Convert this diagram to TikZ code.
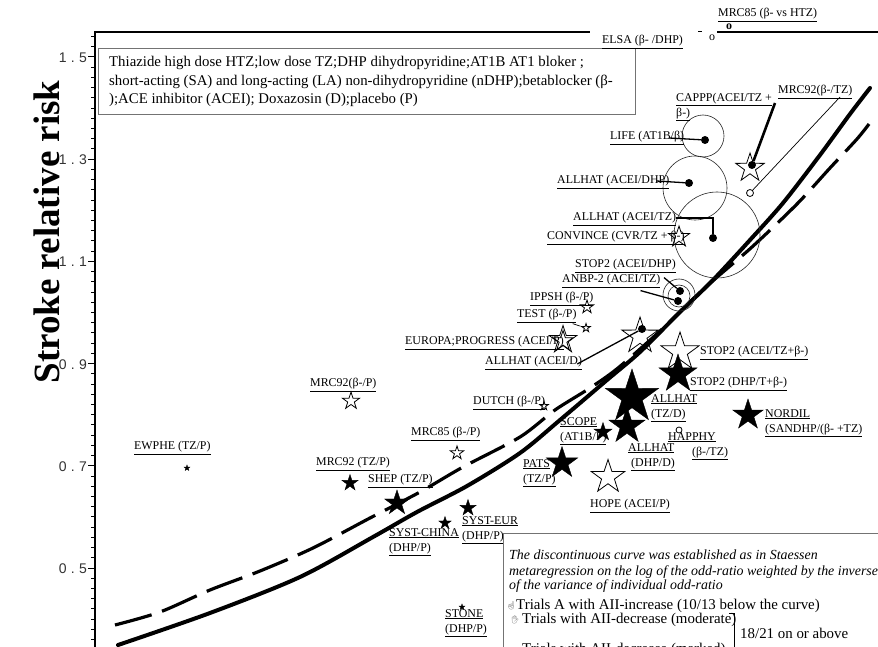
\documentclass[tikz,border=0pt]{standalone}
\usepackage{fontspec}
\setmainfont{Liberation Serif}
\newfontfamily\tickfont[LetterSpace=30]{Liberation Sans}
\newfontfamily\emofont{Noto Emoji}
\usetikzlibrary{shapes.geometric}
\newcommand{\lu}[1]{\underline{#1}}
\tikzset{
 fstar/.style={star, star points=5, star point ratio=2.6, fill=black, draw=black, line width=0.4pt, inner sep=0pt, minimum size=#1},
 ostar/.style={star, star points=5, star point ratio=2.6, draw=black, line width=0.8pt, inner sep=0pt, minimum size=#1},
 bdot/.style={circle, fill=black, inner sep=0pt, minimum size=8pt},
 odot/.style={circle, draw=black, line width=0.8pt, inner sep=0pt, minimum size=#1},
 ring/.style={circle, draw=black!85, line width=0.6pt, inner sep=0pt, minimum size=#1},
 lab/.style={anchor=west, inner sep=0pt, align=left, font=\fontsize{11.9}{15}\selectfont},
 lead/.style={line width=1.3pt},
 thinlead/.style={line width=0.7pt},
 axisline/.style={line width=1.3pt},
 tlab/.style={anchor=east, inner sep=0pt, font=\tickfont\fontsize{14}{16}\selectfont, text=black!80},
 legtxt/.style={anchor=base west, inner sep=0pt, font=\fontsize{14.8}{16}\selectfont},
 notetxt/.style={anchor=base west, inner sep=0pt, font=\fontsize{13.9}{15}\selectfont\itshape},
 trialtxt/.style={anchor=base west, inner sep=0pt, font=\fontsize{14.9}{16}\selectfont},
 icon/.style={anchor=base west, inner sep=0pt, font=\emofont\fontsize{8}{9}\selectfont, text=black!60},
 omark/.style={inner sep=0pt, font=\fontsize{12}{13}\selectfont},
 solidc/.style={line width=4pt, line cap=round, line join=round},
 dashc/.style={line width=3.2pt, dash pattern=on 38pt off 11pt},
}
\begin{document}
\begin{tikzpicture}[x=1pt,y=-1pt]
\useasboundingbox (0,0) rectangle (878,647);
\fill[white] (0,0) rectangle (878,647);

% axes
\draw[axisline] (95,647) -- (95,32) -- (590,32);
\draw[axisline] (717,32) -- (878,32);
\draw[line width=1pt] (698,32) -- (702,32);
\foreach \i in {18,...,77}{
  \pgfmathsetmacro\yy{57+(1.5-\i*0.02)*511}
  \draw[line width=0.8pt] (95,\yy) -- (91,\yy);
}
\foreach \v in {0.5,0.7,0.9,1.1,1.3,1.5}{
  \pgfmathsetmacro\yy{57+(1.5-\v)*511}
  \draw[line width=1pt] (95,\yy) -- (88,\yy);
}
\node[tlab] (t15) at (87,58) {1.5};
\node[tlab] (t13) at (87,160) {1.3};
\node[tlab] (t11) at (87,262) {1.1};
\node[tlab] (t09) at (87,365) {0.9};
\node[tlab] (t07) at (87,467) {0.7};
\node[tlab] (t05) at (87,569) {0.5};
\node[rotate=90, inner sep=0pt, font=\fontsize{37}{40}\selectfont\bfseries] (ytitle) at (47,232) {Stroke relative risk};

% legend box top-left
\draw[draw=black!55, line width=0.8pt] (98,48) rectangle (635,114);
\node[legtxt] (leg1) at (109,67) {Thiazide high dose HTZ;low dose TZ;DHP dihydropyridine;AT1B AT1 bloker ;};
\node[legtxt] (leg2) at (109,86) {short-acting (SA) and long-acting (LA) non-dihydropyridine (nDHP);betablocker (β-};
\node[legtxt] (leg3) at (109,104) {);ACE inhibitor (ACEI); Doxazosin (D);placebo (P)};

% curves
\draw[dashc] plot[smooth, tension=0.5] coordinates {(115,625) (160,612) (210,590) (260,571) (313,548) (370,518) (420,492) (463,467) (520,437) (555,410) (590,388) (618,368) (660,331) (707,286) (752,247) (797,204) (830,168) (857,139) (869,124)};
\draw[solidc] plot[smooth, tension=0.5] coordinates {(118,645) (210,613) (300,577) (373,537) (417,512) (467,486) (520,453) (560,420) (607,380) (640,352) (680,312) (713,280) (750,240) (783,203) (820,155) (850,114) (870,88)};

% circles (big trials)
\node[ring=42pt] (lifeC) at (703,136) {};
\node[ring=64pt] (ahDHPC) at (695,188) {};
\node[ring=86pt] (ahTZC) at (717,235) {};
\node[ring=32pt] (stopC) at (679,295) {};
\node[ring=22pt] (anbpC) at (679,296) {};

% top-right small markers
\node[lab] (mrc85htzL) at (718,15) {\lu{MRC85 (β- vs HTZ)}};
\node[omark, font=\fontsize{12}{13}\selectfont\bfseries] (mrc85htzM) at (729,27) {o};
\node[lab] (elsaL) at (602,42) {\lu{ELSA (β- /DHP)}};
\node[omark] (elsaM) at (712,38) {o};

% CAPPP / MRC92 beta-/TZ
\node[lab] (capppL) at (676,107) {\lu{CAPPP(ACEI/TZ +}\\\lu{β-)}};
\node[ostar=30pt] (capppS) at (750,168) {};
\node[bdot] (capppD) at (752,165) {};
\coordinate (capppA) at (775,103);
\draw[line width=2.6pt] (capppA) -- (capppD);
\node[lab] (mrc92tzL) at (778,92) {\lu{MRC92(β-/TZ)}};
\node[odot=7pt] (mrc92tzM) at (750,193) {};
\coordinate (mrc92tzA) at (840,97);
\draw[thinlead] (mrc92tzA) -- (mrc92tzM);

% LIFE
\node[lab] (lifeL) at (610,138) {\lu{LIFE (AT1B/β)}};
\node[bdot] (lifeD) at (705,140) {};
\draw[lead] ([xshift=-15pt]lifeL.east) -- (lifeD);

% ALLHAT ACEI/DHP
\node[lab] (ahDHPL) at (557,182) {\lu{ALLHAT (ACEI/DHP)}};
\node[bdot] (ahDHPD) at (689,183) {};
\draw[lead] ([xshift=-13pt,yshift=1pt]ahDHPL.east) -- (ahDHPD);

% ALLHAT ACEI/TZ
\node[lab] (ahTZL) at (573,219) {\lu{ALLHAT (ACEI/TZ)}};
\node[bdot] (ahTZD) at (713,238) {};
\draw[lead] ([yshift=1pt]ahTZL.east) -| (ahTZD);

% CONVINCE
\node[lab] (convL) at (547,238) {\lu{CONVINCE (CVR/TZ + β-)}};
\node[ostar=22pt] (convS) at (679,237) {};

% STOP2 ACEI/DHP and ANBP-2
\node[lab] (stopDHPL) at (575,266) {\lu{STOP2 (ACEI/DHP)}};
\node[bdot] (stopDHPD) at (680,291) {};
\draw[lead] ([xshift=-12pt,yshift=-5pt]stopDHPL.south east) -- (stopDHPD);
\node[lab] (anbpL) at (562,281) {\lu{ANBP-2 (ACEI/TZ)}};
\node[bdot] (anbpD) at (678,301) {};
\draw[lead] ([xshift=-20pt,yshift=-3pt]anbpL.south east) -- (anbpD);

% IPPSH / TEST / EUROPA
\node[lab] (ippshL) at (530,299) {\lu{IPPSH (β-/P)}};
\node[ostar=14pt] (ippshS) at (587,307) {};
\node[lab] (testL) at (517,316) {\lu{TEST (β-/P)}};
\node[ostar=9pt] (testS) at (586,328) {};
\draw[thinlead] ([xshift=-4pt,yshift=-1pt]testL.south east) -- (testS);
\node[lab] (europaL) at (405,343) {\lu{EUROPA;PROGRESS (ACEI/P)}};
\node[ostar=29pt] (europaS) at (563,340) {};
\node[ostar=21pt] (europaS2) at (563,341) {};

% ALLHAT ACEI/D
\node[lab] (ahDL) at (485,363) {\lu{ALLHAT (ACEI/D)}};
\node[ostar=38pt] (ahDS) at (640,336) {};
\node[bdot] (ahDD) at (642,329) {};
\draw[lead] ([xshift=-5pt,yshift=-1pt]ahDL.east) -- (ahDD);

% STOP2 ACEI/TZ+beta / DHP
\node[ostar=40pt] (stopTZS) at (680,352) {};
\node[lab] (stopTZL) at (700,353) {\lu{STOP2 (ACEI/TZ+β-)}};
\node[fstar=40pt] (stopDS) at (678,374) {};
\node[lab] (stopDL) at (690,384) {\lu{STOP2 (DHP/T+β-)}};

% ALLHAT TZ/D, DHP/D
\node[fstar=56pt] (ahTZDS) at (632,397) {};
\node[lab] (ahTZDL) at (651,408) {\lu{ALLHAT}\\\lu{(TZ/D)}};
\node[fstar=38pt] (ahDHPDS) at (627,426) {};
\node[lab] (ahDHPDL) at (628,457) {\lu{ALLHAT}\\\hspace*{3pt}\lu{(DHP/D)}};

% SCOPE
\node[fstar=19pt] (scopeS) at (603,432) {};
\node[lab] (scopeL) at (560,431) {\lu{SCOPE}\\\lu{(AT1B/P)}};

% HAPPHY
\node[odot=6pt] (happhyM) at (679,430) {};
\node[lab] (happhyL) at (668,446) {\lu{HAPPHY}\\\hspace*{24pt}\lu{(β-/TZ)}};

% NORDIL
\node[fstar=32pt] (nordilS) at (748,415) {};
\node[lab] (nordilL) at (765,423) {\lu{NORDIL}\\\lu{(SANDHP/(β- +TZ)}};

% MRC92 beta-/P, DUTCH, MRC85 beta-/P
\node[lab] (mrc92pL) at (310,385) {\lu{MRC92(β-/P)}};
\node[ostar=18pt] (mrc92pS) at (351,401) {};
\node[lab] (dutchL) at (473,403) {\lu{DUTCH (β-/P)}};
\node[ostar=9pt] (dutchS) at (544,406) {};
\node[lab] (mrc85pL) at (411,434) {\lu{MRC85 (β-/P)}};
\node[ostar=14pt] (mrc85pS) at (457,453) {};

% PATS, HOPE
\node[fstar=33pt] (patsS) at (562,463) {};
\node[lab] (patsL) at (523,473) {\lu{PATS}\\\lu{(TZ/P)}};
\node[ostar=35pt] (hopeS) at (608,477) {};
\node[lab] (hopeL) at (590,506) {\lu{HOPE (ACEI/P)}};

% EWPHE, MRC92 TZ/P, SHEP
\node[lab] (ewpheL) at (134,448) {\lu{EWPHE (TZ/P)}};
\node[fstar=6pt] (ewpheS) at (187,468) {};
\node[lab] (mrc92tL) at (316,464) {\lu{MRC92 (TZ/P)}};
\node[fstar=17pt] (mrc92tS) at (350,483) {};
\node[lab] (shepL) at (368,481) {\lu{SHEP (TZ/P)}};
\node[fstar=26pt] (shepS) at (397,503) {};

% SYST-EUR, SYST-CHINA, STONE
\node[fstar=17pt] (systeS) at (468,508) {};
\node[lab] (systeL) at (462,530) {\lu{SYST-EUR}\\\lu{(DHP/P)}};
\node[fstar=13pt] (systcS) at (445,523) {};
\node[lab] (systcL) at (389,542) {\lu{SYST-CHINA}\\\lu{(DHP/P)}};
\node[fstar=6pt] (stoneS) at (462,607) {};
\node[lab] (stoneL) at (445,623) {\lu{STONE}\\\lu{(DHP/P)}};

% note box bottom-right
\draw[draw=black!55, line width=0.8pt] (503,650) -- (503,533) -- (880,533);
\node[notetxt] (note1) at (509,559) {The discontinuous curve was established as in Staessen};
\node[notetxt] (note2) at (509,575) {metaregression on the log of the odd-ratio weighted by the inverse};
\node[notetxt] (note3) at (509,589) {of the variance of individual odd-ratio};
\node[icon] (ic1) at (506,608) {☝};
\node[trialtxt] (tr1) at (516,609) {Trials A with AII-increase (10/13 below the curve)};
\node[icon] (ic2) at (510,622) {✋};
\node[trialtxt] (tr2) at (522,623) {Trials with AII-decrease (moderate)};
\node[trialtxt] (tr3) at (522,653) {Trials with AII-decrease (marked)};
\draw[line width=0.7pt] (729,613) -- (734,613) -- (734,647);
\node[trialtxt] (tr4) at (740,638) {18/21 on or above};
\end{tikzpicture}
\end{document}
